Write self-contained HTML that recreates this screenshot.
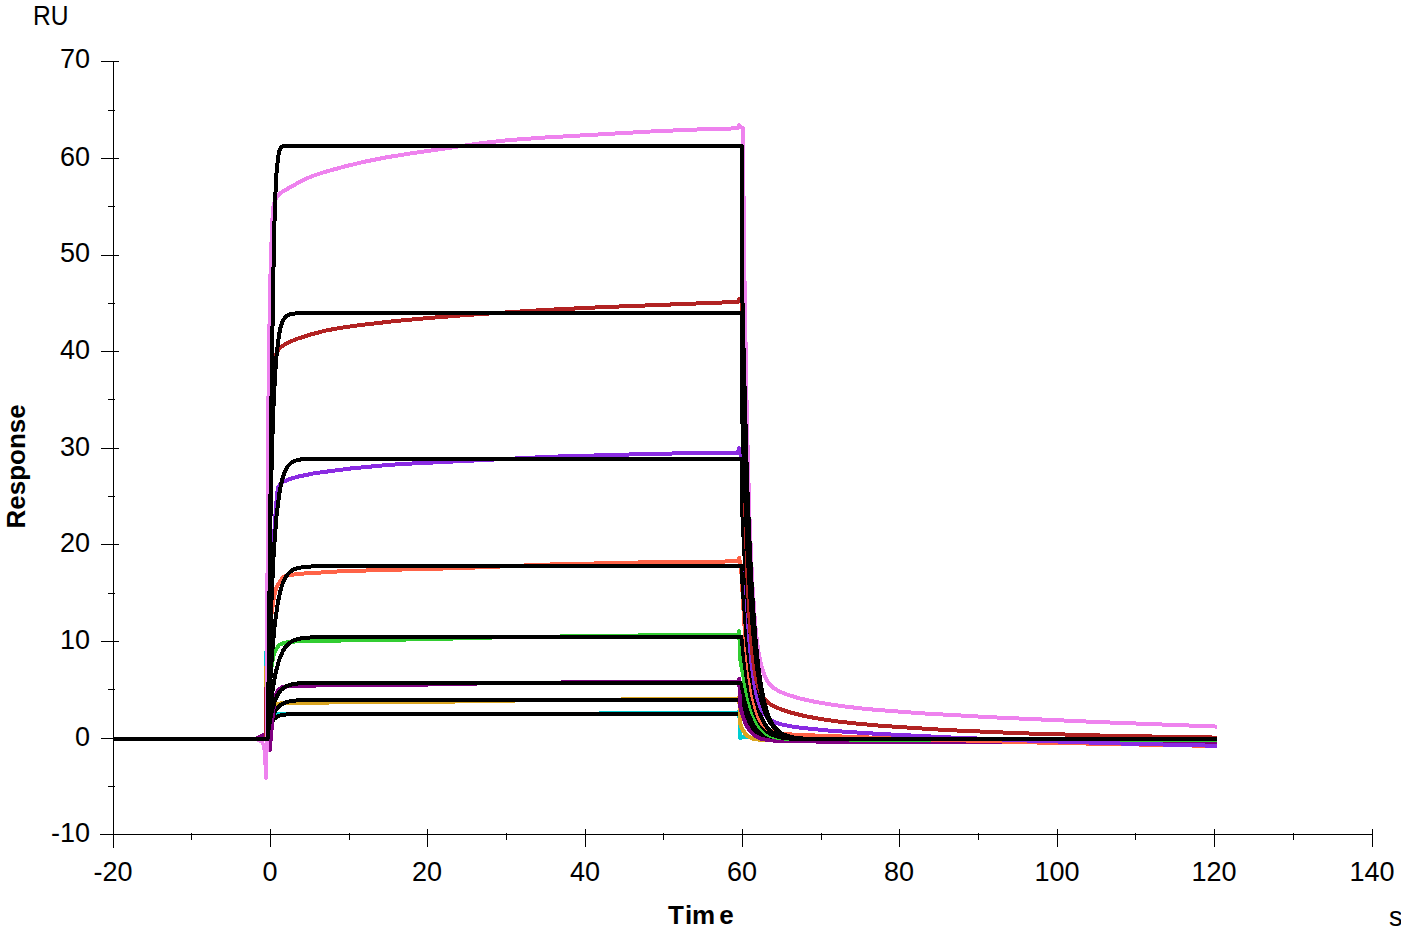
<!DOCTYPE html>
<html><head><meta charset="utf-8"><style>
html,body{margin:0;padding:0;background:#fff;}
body{width:1401px;height:932px;position:relative;overflow:hidden;font-family:"Liberation Sans",sans-serif;color:#000;}
svg{position:absolute;left:0;top:0;}
.yl{position:absolute;left:0;width:90px;text-align:right;font-size:27px;line-height:27px;}
.xl{position:absolute;top:859px;width:80px;text-align:center;font-size:27px;line-height:27px;}
.t{position:absolute;font-size:27px;line-height:27px;}
</style></head><body>
<svg width="1401" height="932" viewBox="0 0 1401 932" shape-rendering="crispEdges">
<path d="M113.5 61V848M100 834.5H1373" stroke="#000" stroke-width="1" fill="none"/>
<path d="M101 834.5H119M101 738.5H119M101 641.5H119M101 544.5H119M101 448.5H119M101 351.5H119M101 255.5H119M101 158.5H119M101 61.5H119M108 786.5H115M108 689.5H115M108 593.5H115M108 496.5H115M108 399.5H115M108 303.5H115M108 206.5H115M108 110.5H115M113.5 829V847M270.5 829V847M427.5 829V847M585.5 829V847M742.5 829V847M899.5 829V847M1057.5 829V847M1214.5 829V847M1372.5 829V847M191.5 833V840M349.5 833V840M506.5 833V840M663.5 833V840M821.5 833V840M978.5 833V840M1135.5 833V840M1293.5 833V840" stroke="#000" stroke-width="1" fill="none"/>
<path d="M113.2 739.1 265.7 739.1 266.5 651.2 267.3 704.4 268.1 713.2 269.0 716.9 272.8 714.5 278.1 714.0 522.4 714.0 738.0 712.6 739.2 710.6 740.3 738.2 741.8 737.1 743.6 736.7 757.7 738.2 778.1 738.6 1217.2 738.7" stroke="#00CED1" stroke-width="4" fill="none" stroke-linejoin="round" stroke-linecap="butt"/>
<path d="M113.2 739.1 267.6 739.1 267.7 733.6 269.0 728.9 271.2 723.3 273.7 719.4 276.2 717.2 279.4 715.6 283.5 714.7 289.1 714.3 741.9 714.1 742.1 715.5 743.6 719.0 747.3 725.3 750.9 729.6 755.0 732.9 759.5 735.3 764.9 737.0 771.3 738.1 779.7 738.8 817.0 739.3 1217.2 739.3" stroke="#000" stroke-width="4" fill="none" stroke-linejoin="round" stroke-linecap="butt"/>
<path d="M113.2 739.1 265.7 739.1 266.5 665.7 267.4 709.2 269.9 710.1 271.4 709.7 274.2 705.5 277.0 704.3 281.6 703.3 291.0 702.8 469.3 701.4 551.9 699.8 738.0 699.0 739.2 696.6 740.3 724.2 742.1 728.6 744.9 733.4 748.4 736.7 752.8 738.6 758.8 739.6 782.2 740.1 1217.2 740.1" stroke="#DAA520" stroke-width="4" fill="none" stroke-linejoin="round" stroke-linecap="butt"/>
<path d="M113.2 739.1 267.6 739.1 267.7 733.1 270.4 722.3 273.3 714.6 276.7 708.7 280.3 705.1 284.6 702.7 289.9 701.2 297.2 700.4 325.7 700.0 741.9 700.0 742.1 702.5 743.2 706.4 746.9 716.9 750.6 723.8 754.8 729.3 759.4 733.0 764.7 735.7 771.2 737.4 779.5 738.5 792.9 739.1 816.8 739.3 1217.2 739.3" stroke="#000" stroke-width="4" fill="none" stroke-linejoin="round" stroke-linecap="butt"/>
<path d="M113.2 739.1 254.8 739.1 264.3 734.8 265.4 735.7 266.6 738.2 268.1 746.3 269.0 748.9 269.8 749.8 272.8 714.5 274.2 702.7 275.3 696.6 277.3 691.4 279.9 688.6 282.7 687.1 289.0 686.1 325.7 685.3 429.9 684.5 506.6 682.9 630.6 682.0 738.0 681.6 739.2 678.8 740.3 706.8 743.0 716.7 746.0 724.4 749.9 731.0 754.7 735.6 760.5 738.5 768.0 740.2 781.6 741.1 811.2 741.5 1217.2 742.8" stroke="#800080" stroke-width="4" fill="none" stroke-linejoin="round" stroke-linecap="butt"/>
<path d="M113.2 739.1 267.6 739.1 268.8 727.6 271.5 712.7 274.2 702.8 277.3 695.3 280.8 690.2 285.1 686.8 290.2 684.7 297.5 683.5 307.1 683.0 325.7 682.9 741.9 682.9 742.2 688.6 746.5 706.4 750.3 716.9 754.5 724.8 759.1 730.2 764.4 734.0 771.0 736.6 779.4 738.2 792.7 739.0 816.7 739.3 1217.2 739.3" stroke="#000" stroke-width="4" fill="none" stroke-linejoin="round" stroke-linecap="butt"/>
<path d="M113.2 739.1 265.9 739.1 266.5 732.7 267.7 705.5 269.5 682.8 270.9 670.2 273.1 657.1 274.8 651.5 278.3 645.8 279.5 644.7 281.6 643.8 287.4 642.1 296.1 641.4 316.1 640.9 426.0 639.2 504.7 637.2 638.4 635.5 738.0 635.0 739.2 631.1 740.3 660.1 746.0 690.2 748.7 701.3 751.5 710.7 756.1 721.7 758.6 725.9 761.3 729.4 764.3 732.3 767.6 734.5 771.2 736.2 775.4 737.4 786.9 738.9 808.0 739.4 1217.2 740.5" stroke="#32CD32" stroke-width="4" fill="none" stroke-linejoin="round" stroke-linecap="butt"/>
<path d="M113.2 739.1 267.6 739.1 269.9 712.2 272.6 690.2 275.6 673.1 279.1 660.0 283.0 650.8 285.2 647.4 287.7 644.5 290.6 642.2 293.7 640.5 297.3 639.2 301.6 638.3 312.6 637.3 333.5 637.0 741.9 637.0 742.1 642.2 743.6 656.5 747.3 682.0 750.9 699.7 755.0 713.2 759.5 722.9 762.1 726.6 764.9 729.8 767.9 732.3 771.3 734.4 775.3 736.0 779.7 737.2 785.7 738.2 793.1 738.8 817.0 739.3 1217.2 739.3" stroke="#000" stroke-width="4" fill="none" stroke-linejoin="round" stroke-linecap="butt"/>
<path d="M113.2 739.1 265.9 739.1 269.5 639.9 270.4 623.9 271.8 611.1 274.0 596.7 276.2 588.5 278.8 583.4 281.3 579.5 283.8 577.0 286.2 575.8 291.7 574.7 303.9 573.5 337.5 571.5 374.8 570.2 463.4 568.0 546.0 564.6 656.1 562.1 738.0 561.4 739.2 557.5 741.5 573.9 744.0 618.6 746.6 653.4 749.2 676.4 752.0 694.5 755.6 709.6 757.7 715.4 759.9 720.1 762.4 724.0 765.0 727.0 768.2 729.4 772.0 731.3 780.5 733.4 793.8 734.7 892.2 738.4 1043.7 742.7 1217.2 746.0" stroke="#FF6347" stroke-width="4" fill="none" stroke-linejoin="round" stroke-linecap="butt"/>
<path d="M113.2 739.1 267.6 739.1 269.6 692.8 272.0 654.5 274.7 624.9 277.7 603.4 281.1 588.1 283.0 582.6 285.2 577.9 287.6 574.4 290.4 571.5 293.6 569.5 297.5 568.0 307.1 566.6 325.7 566.2 741.9 566.2 742.1 577.1 743.2 594.7 746.9 641.7 750.6 672.4 754.7 695.6 759.1 711.7 761.6 718.1 764.4 723.5 767.4 727.8 770.7 731.1 774.5 733.8 778.9 735.8 784.7 737.4 792.0 738.4 815.6 739.3 1217.2 739.3" stroke="#000" stroke-width="4" fill="none" stroke-linejoin="round" stroke-linecap="butt"/>
<path d="M113.2 739.1 265.9 739.1 266.5 724.6 267.7 663.6 269.9 601.6 271.5 572.3 276.2 504.4 277.2 493.0 278.1 487.1 280.8 483.6 284.1 481.3 290.7 478.8 298.0 476.6 314.8 473.2 351.2 468.4 388.6 464.9 412.2 463.5 551.9 456.7 658.1 453.7 738.0 452.6 739.2 448.3 741.9 462.3 744.0 534.4 746.2 589.4 748.7 632.5 751.7 665.6 755.0 687.9 756.9 696.4 758.9 703.3 761.3 709.0 763.9 713.6 767.1 717.3 770.9 720.2 775.7 722.6 781.9 724.5 790.1 726.2 800.8 727.8 831.2 730.8 878.4 733.9 951.2 737.5 1031.9 740.7 1120.4 743.5 1217.2 745.8" stroke="#8A2BE2" stroke-width="4" fill="none" stroke-linejoin="round" stroke-linecap="butt"/>
<path d="M113.2 739.1 267.6 739.1 269.3 664.8 271.4 601.9 273.7 552.8 276.4 517.1 279.4 493.0 281.1 483.9 283.0 476.7 285.2 470.8 287.6 466.6 290.6 463.3 294.0 461.2 297.6 460.0 302.2 459.2 317.8 458.7 741.9 458.6 742.1 509.4 744.6 557.6 748.8 617.1 751.2 641.3 753.9 663.0 756.2 678.1 758.8 690.9 761.6 702.2 764.6 711.2 767.9 718.7 771.5 724.6 775.7 729.4 780.5 733.0 786.9 735.8 794.8 737.7 805.0 738.7 820.1 739.2 1217.2 739.3" stroke="#000" stroke-width="4" fill="none" stroke-linejoin="round" stroke-linecap="butt"/>
<path d="M113.2 739.1 265.9 739.1 269.2 460.6 270.9 397.6 272.3 371.7 273.9 361.5 275.5 355.7 277.2 351.7 279.5 348.4 282.4 345.9 288.8 342.2 296.9 338.9 311.8 334.2 325.7 330.6 339.4 328.1 355.2 325.7 394.5 321.1 426.0 318.2 469.3 314.8 542.0 310.1 601.1 307.2 738.0 301.9 739.2 299.0 741.5 301.9 743.2 414.5 745.1 504.3 747.3 573.8 749.9 625.7 752.8 657.7 754.3 669.2 756.2 679.3 758.3 686.9 760.6 693.0 763.5 697.8 766.8 701.6 772.4 705.6 780.5 709.2 791.8 712.9 805.5 716.2 820.1 718.9 837.1 721.4 858.8 723.8 882.4 725.9 945.3 730.0 1022.0 733.3 1110.6 735.8 1217.2 737.6" stroke="#B22222" stroke-width="4" fill="none" stroke-linejoin="round" stroke-linecap="butt"/>
<path d="M113.2 739.1 267.6 739.1 270.3 525.3 272.0 448.2 273.9 395.7 276.1 359.6 278.8 336.2 280.3 328.4 282.2 322.4 284.4 318.3 287.1 315.7 289.8 314.3 293.1 313.6 305.4 313.0 741.9 313.0 742.1 411.1 743.2 445.9 747.4 548.8 749.8 589.5 752.5 625.2 754.7 648.1 757.0 667.5 759.7 684.6 762.5 698.3 765.7 709.6 769.1 718.4 773.1 725.3 777.6 730.5 780.5 732.7 783.6 734.5 791.0 737.1 800.6 738.5 814.9 739.1 1217.2 739.3" stroke="#000" stroke-width="4" fill="none" stroke-linejoin="round" stroke-linecap="butt"/>
<path d="M113.2 739.1 254.8 739.1 258.8 739.9 261.1 741.1 262.1 742.2 263.5 744.9 264.3 747.9 265.1 753.6 266.0 777.8 266.8 737.7 268.2 419.3 269.9 296.0 271.2 250.1 272.8 211.4 273.7 205.1 274.8 201.1 276.7 197.2 278.9 194.4 283.2 191.2 302.4 180.4 312.1 176.2 323.7 172.3 343.4 166.8 365.0 161.6 386.6 157.3 410.2 153.5 481.1 143.2 508.6 140.1 542.0 137.7 654.2 131.3 697.5 129.5 738.0 128.3 739.2 125.4 742.7 128.3 744.6 288.0 746.8 417.0 749.3 513.7 752.1 581.4 755.1 624.1 756.7 639.1 758.6 652.6 760.6 663.1 763.0 671.5 765.8 678.4 769.1 683.6 773.7 688.0 779.7 691.6 788.2 695.0 799.7 698.4 813.5 701.5 829.3 704.3 847.0 706.8 868.6 709.2 919.7 713.2 992.5 717.3 1096.8 722.0 1217.2 726.6" stroke="#EE82EE" stroke-width="4" fill="none" stroke-linejoin="round" stroke-linecap="butt"/>
<path d="M113.2 739.1 267.6 739.1 268.7 671.5 271.8 368.1 273.9 243.4 275.1 200.0 276.7 169.8 278.6 153.9 279.7 149.9 281.3 147.3 283.8 146.1 289.0 145.9 741.9 145.9 742.1 282.6 743.2 336.1 746.9 476.3 749.2 534.3 751.5 582.3 753.6 614.8 755.8 642.3 758.1 665.0 760.8 684.4 763.6 699.5 766.9 711.9 770.7 721.4 775.0 728.3 777.6 731.2 780.5 733.4 783.6 735.2 787.2 736.6 796.2 738.3 809.6 739.1 1217.2 739.3" stroke="#000" stroke-width="4" fill="none" stroke-linejoin="round" stroke-linecap="butt"/>
</svg>
<div class="yl" style="top:820px">-10</div><div class="yl" style="top:724px">0</div><div class="yl" style="top:627px">10</div><div class="yl" style="top:530px">20</div><div class="yl" style="top:434px">30</div><div class="yl" style="top:337px">40</div><div class="yl" style="top:240px">50</div><div class="yl" style="top:144px">60</div><div class="yl" style="top:46px">70</div><div class="xl" style="left:73px">-20</div><div class="xl" style="left:230px">0</div><div class="xl" style="left:387px">20</div><div class="xl" style="left:545px">40</div><div class="xl" style="left:702px">60</div><div class="xl" style="left:859px">80</div><div class="xl" style="left:1017px">100</div><div class="xl" style="left:1174px">120</div><div class="xl" style="left:1332px">140</div>
<div class="t" style="left:33px;top:3px;font-size:27px;transform:scaleX(0.91);transform-origin:0 0;">RU</div>
<div class="t" style="left:668px;top:902px;font-weight:bold;font-size:26px;">T<span style="margin-left:1px">im</span><span style="margin-left:4px">e</span></div>
<div class="t" style="left:1389px;top:904px;">s</div>
<div class="t" style="left:-44px;top:455px;font-weight:bold;font-size:26px;transform:rotate(-90deg);width:120px;text-align:center;">Response</div>
</body></html>
